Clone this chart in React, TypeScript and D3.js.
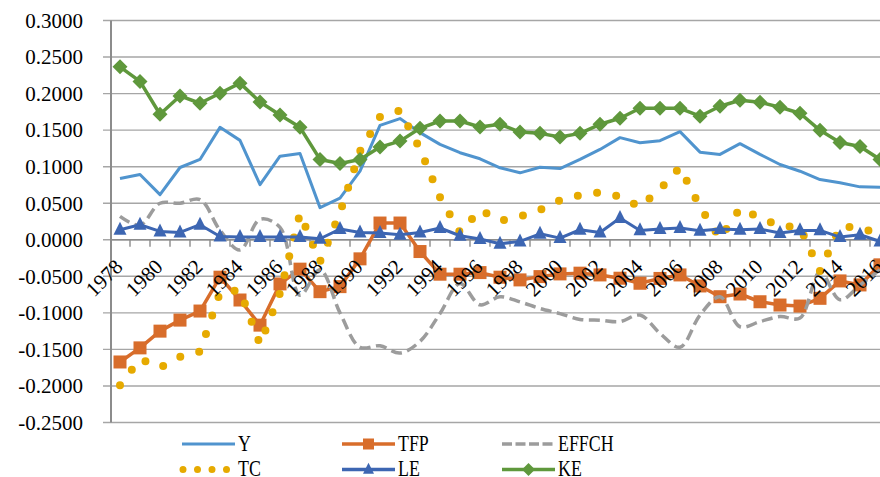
import React from "react";
import * as d3 from "d3";

const years = d3.range(1978, 2017);
const yTicks = [0.3, 0.25, 0.2, 0.15, 0.1, 0.05, 0, -0.05, -0.1, -0.15, -0.2, -0.25];
const xLabelYears = years.filter((y) => (y - 1978) % 2 === 0);

const Y = [0.0838, 0.0893, 0.0618, 0.0989, 0.1099, 0.1538, 0.136, 0.0755, 0.1144, 0.1181, 0.044, 0.057, 0.0938, 0.1566, 0.1658, 0.1466, 0.1305, 0.1191, 0.1108, 0.0985, 0.0916, 0.0993, 0.0975, 0.1099, 0.1236, 0.1397, 0.1328, 0.1356, 0.1479, 0.1199, 0.1168, 0.1315, 0.1168, 0.103, 0.0938, 0.0824, 0.0779, 0.0724, 0.072];
const TFP = [-0.1672, -0.1479, -0.125, -0.1099, -0.0975, -0.0512, -0.0824, -0.1168, -0.0604, -0.0402, -0.071, -0.0641, -0.0261, 0.0229, 0.0229, -0.0161, -0.0471, -0.0471, -0.0449, -0.0512, -0.0549, -0.0504, -0.0467, -0.0457, -0.0481, -0.0526, -0.0595, -0.0529, -0.0481, -0.0632, -0.0779, -0.0742, -0.0848, -0.0893, -0.0907, -0.0801, -0.0563, -0.0618, -0.0343];
const EFFCH = [0.032, 0.02, 0.05, 0.05, 0.055, 0.013, -0.014, 0.028, 0.017, -0.076, -0.041, -0.1, -0.147, -0.145, -0.155, -0.139, -0.101, -0.06, -0.089, -0.078, -0.085, -0.094, -0.101, -0.109, -0.11, -0.112, -0.103, -0.128, -0.147, -0.103, -0.078, -0.119, -0.112, -0.105, -0.107, -0.044, -0.082, -0.062, -0.041];
const TC = [-0.199, -0.163, -0.175, -0.16, -0.153, -0.072, -0.069, -0.143, -0.073, 0.036, -0.03, 0.037, 0.121, 0.168, 0.177, 0.124, 0.058, 0.01, 0.041, 0.026, 0.032, 0.041, 0.054, 0.061, 0.065, 0.059, 0.045, 0.069, 0.099, 0.045, 0.002, 0.043, 0.03, 0.019, 0.017, -0.043, 0.018, 0.017, 0.007];
const LE = [0.0137, 0.0206, 0.0114, 0.01, 0.0206, 0.0045, 0.0037, 0.0037, 0.0037, 0.0037, 0.0014, 0.0147, 0.01, 0.0092, 0.0069, 0.01, 0.0161, 0.0055, 0.001, -0.0055, -0.0023, 0.0082, 0.0023, 0.0137, 0.01, 0.0298, 0.0128, 0.0147, 0.0161, 0.0124, 0.0147, 0.0137, 0.0147, 0.0092, 0.0128, 0.0128, 0.0037, 0.0069, -0.0023];
const KE = [0.2366, 0.2166, 0.1717, 0.1968, 0.1868, 0.2005, 0.2143, 0.1886, 0.1707, 0.1538, 0.1099, 0.1044, 0.1099, 0.1268, 0.135, 0.1525, 0.1625, 0.1625, 0.1543, 0.158, 0.1474, 0.1456, 0.1405, 0.1456, 0.158, 0.1662, 0.1799, 0.1799, 0.1799, 0.169, 0.1827, 0.1909, 0.1882, 0.1813, 0.1731, 0.1497, 0.1332, 0.1277, 0.1099];

const C = {
  Y: "#5094CE",
  TFP: "#D86D2B",
  EFFCH: "#9C9C9C",
  TC: "#E6AA00",
  LE: "#3D66B2",
  KE: "#5F983C",
};

const W = 880;
const H = 477;
const FONT = "'Liberation Serif', 'Times New Roman', serif";

export default function App() {
  const x = d3.scaleBand<number>().domain(years).range([110, 890]).padding(0);
  const cx = (yr: number) => (x(yr) as number) + x.bandwidth() / 2;
  const y = d3.scaleLinear().domain([-0.25, 0.3]).range([422.5, 20.5]);

  const lineStraight = (vals: number[]) =>
    d3.line<number>().x((_, i) => cx(years[i])).y((v) => y(v))(vals) as string;
  const lineSmooth = (vals: number[]) =>
    d3
      .line<number>()
      .x((_, i) => cx(years[i]))
      .y((v) => y(v))
      .curve(d3.curveCatmullRom.alpha(0.5))(vals) as string;

  const diamond = (px: number, py: number, r: number) =>
    `M${px},${py - r}L${px + r},${py}L${px},${py + r}L${px - r},${py}Z`;
  const triangle = (px: number, py: number, s: number) =>
    `M${px},${py - s * 0.62}L${px + s / 2},${py + s * 0.38}L${px - s / 2},${py + s * 0.38}Z`;

  const plotLeft = 111;
  const zeroY = y(0);

  const legendRows = [
    [
      { key: "Y", x: 182 },
      { key: "TFP", x: 342 },
      { key: "EFFCH", x: 502 },
    ],
    [
      { key: "TC", x: 182 },
      { key: "LE", x: 342 },
      { key: "KE", x: 502 },
    ],
  ];
  const legendLineY = [444, 469.5];
  const legendBase = [452.3, 477.2];

  const renderLegendSample = (key: string, lx: number, ly: number) => {
    const mid = lx + 26.5;
    switch (key) {
      case "Y":
        return <line x1={lx} x2={lx + 53} y1={ly} y2={ly} stroke={C.Y} strokeWidth={3} />;
      case "TFP":
        return (
          <g>
            <line x1={lx} x2={lx + 53} y1={ly} y2={ly} stroke={C.TFP} strokeWidth={3.5} />
            <rect x={mid - 5.5} y={ly - 5.5} width={11} height={11} fill={C.TFP} />
          </g>
        );
      case "EFFCH":
        return (
          <line x1={lx} x2={lx + 53} y1={ly} y2={ly} stroke={C.EFFCH} strokeWidth={3.5} strokeDasharray="10 3.5" />
        );
      case "TC":
        return (
          <line x1={lx + 1} x2={lx + 46} y1={ly} y2={ly} stroke={C.TC} strokeWidth={7} strokeLinecap="round" strokeDasharray="0 14.5" />
        );
      case "LE":
        return (
          <g>
            <line x1={lx} x2={lx + 53} y1={ly} y2={ly} stroke={C.LE} strokeWidth={3.5} />
            <path d={triangle(mid, ly, 11)} fill={C.LE} />
          </g>
        );
      case "KE":
        return (
          <g>
            <line x1={lx} x2={lx + 53} y1={ly} y2={ly} stroke={C.KE} strokeWidth={3.5} />
            <path d={diamond(mid, ly, 6.5)} fill={C.KE} />
          </g>
        );
    }
    return null;
  };

  return (
    <svg
      width={W}
      height={H}
      style={{ position: "absolute", left: 0, top: 0, background: "#fff" }}
      fontFamily={FONT}
    >
      <rect x={0} y={0} width={W} height={H} fill="#fff" />
      {yTicks.map((t) => (
        <g key={t}>
          <line x1={103} x2={890} y1={y(t)} y2={y(t)} stroke="#A6A6A6" strokeWidth={1.4} />
          <text x={83} y={y(t)} dy="0.35em" textAnchor="end" fontSize={21} fill="#000">
            {t.toFixed(4)}
          </text>
        </g>
      ))}
      <line x1={plotLeft} x2={plotLeft} y1={20.5} y2={422.5} stroke="#8C8C8C" strokeWidth={2} />
      <line x1={plotLeft} x2={890} y1={zeroY} y2={zeroY} stroke="#8C8C8C" strokeWidth={1.6} />
      {years.map((yr) => (
        <line
          key={"t" + yr}
          x1={(x(yr) as number) + 20}
          x2={(x(yr) as number) + 20}
          y1={zeroY}
          y2={zeroY + 7}
          stroke="#8C8C8C"
          strokeWidth={1.4}
        />
      ))}

      <path d={lineStraight(Y)} fill="none" stroke={C.Y} strokeWidth={3} strokeLinejoin="round" />
      <path d={lineStraight(TFP)} fill="none" stroke={C.TFP} strokeWidth={3.5} strokeLinejoin="round" />
      {TFP.map((v, i) => (
        <rect key={"sq" + i} x={cx(years[i]) - 6.5} y={y(v) - 6.5} width={13} height={13} fill={C.TFP} />
      ))}
      <path d={lineSmooth(EFFCH)} fill="none" stroke={C.EFFCH} strokeWidth={3.5} strokeDasharray="11 5.5" />
      <path
        d={lineStraight(TC)}
        fill="none"
        stroke={C.TC}
        strokeWidth={8}
        strokeLinecap="round"
        strokeLinejoin="round"
        strokeDasharray="0 19.5"
      />
      <path d={lineStraight(LE)} fill="none" stroke={C.LE} strokeWidth={3} strokeLinejoin="round" />
      {LE.map((v, i) => (
        <path key={"tr" + i} d={triangle(cx(years[i]), y(v), 13)} fill={C.LE} />
      ))}
      <path d={lineStraight(KE)} fill="none" stroke={C.KE} strokeWidth={3.5} strokeLinejoin="round" />
      {KE.map((v, i) => (
        <path key={"dm" + i} d={diamond(cx(years[i]), y(v), 7.5)} fill={C.KE} />
      ))}

      {xLabelYears.map((yr) => {
        const px = cx(yr) + 4;
        const py = 268;
        return (
          <text
            key={"xl" + yr}
            x={px}
            y={py}
            textAnchor="end"
            fontSize={21}
            fill="#000"
            transform={`rotate(-45 ${px} ${py})`}
          >
            {yr}
          </text>
        );
      })}

      {legendRows.map((row, ri) =>
        row.map((item) => (
          <g key={item.key}>
            {renderLegendSample(item.key, item.x, legendLineY[ri])}
            <text
              transform={`translate(${item.x + 56},${legendBase[ri] - 1.5}) scale(0.76,1)`}
              fontSize={23.5}
              fill="#000"
            >
              {item.key}
            </text>
          </g>
        ))
      )}
    </svg>
  );
}
